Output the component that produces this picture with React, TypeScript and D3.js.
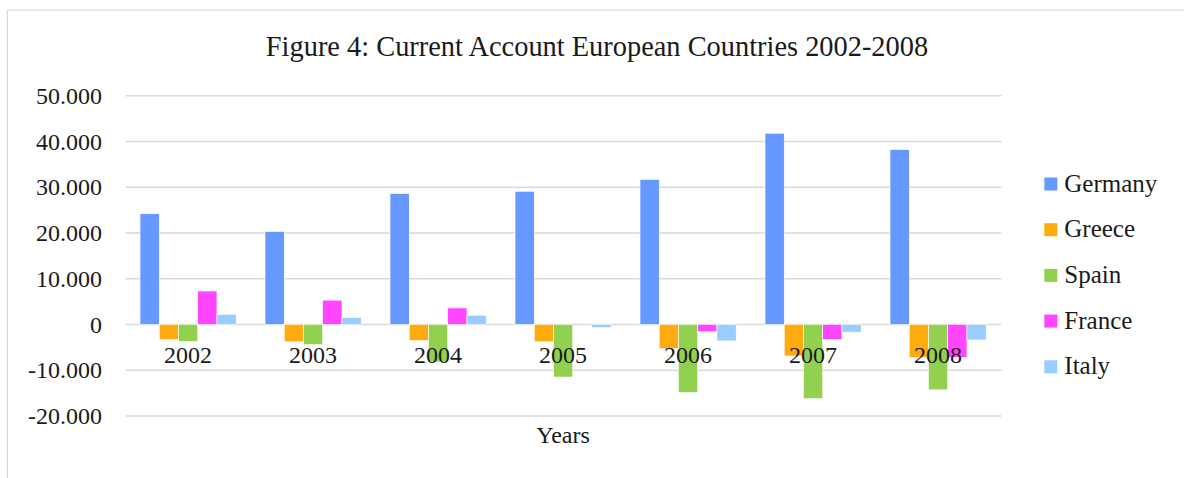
import React from 'react';
import * as d3 from 'd3';

// values (current account, millions)
const years = ['2002', '2003', '2004', '2005', '2006', '2007', '2008'];
const countries = ['Germany', 'Greece', 'Spain', 'France', 'Italy'];
const germany = [24200, 20300, 28600, 29100, 31700, 41800, 38200];
const greece = [-3300, -3800, -3500, -3800, -5300, -6900, -7200];
const spain = [-3700, -4400, -8200, -11500, -14900, -16200, -14300];
const france = [7300, 5300, 3600, 0, -1600, -3300, -7200];
const italy = [2200, 1500, 2000, -700, -3600, -1700, -3400];
const yTicks = [-20000, -10000, 0, 10000, 20000, 30000, 40000, 50000];
const colors = ['#6699ff', '#ffab10', '#92d050', '#ff45ff', '#99ccff'];

const series = [germany, greece, spain, france, italy];

const W = 1184;
const H = 478;
const FONT = '"Liberation Serif", "Times New Roman", serif';

const fmt = d3.formatLocale({
  decimal: ',',
  thousands: '.',
  grouping: [3],
  currency: ['', ''],
  minus: '-',
}).format(',');

export default function App() {
  const x0 = d3.scaleBand().domain(years).range([125.6, 1000.6]).paddingInner(0).paddingOuter(0);
  // excel style: gap width 150% -> band = 6.5 bar widths
  const barW = x0.bandwidth() / 6.5;
  const x1 = d3.scaleBand().domain(countries).range([0.75 * barW, 5.75 * barW]);
  const y = d3.scaleLinear().domain([-20000, 50000]).range([415.9, 95.7]);

  const txt = { fontFamily: FONT };

  return (
    <svg width={W} height={H} style={{ position: 'absolute', left: 0, top: 0, background: '#fff', fontFamily: FONT }}>
      <rect x={7.5} y={10} width={W} height={H} fill="#fff" stroke="#d9d9d9" strokeWidth={1.2} />

      <text x={597} y={56} textAnchor="middle" fontSize={28.4} fill="#1a1a1a" style={txt}>
        Figure 4: Current Account European Countries 2002-2008
      </text>

      {yTicks.map(t => (
        <g key={t}>
          <line x1={125.6} x2={1001.5} y1={y(t)} y2={y(t)} stroke="#d9d9d9" strokeWidth={1.5} />
          <text x={102} y={y(t) + 8.3} textAnchor="end" fontSize={24} fill="#1a1a1a" style={txt}>
            {fmt(t)}
          </text>
        </g>
      ))}

      {years.map((yr, i) => (
        <g key={yr} transform={`translate(${x0(yr)},0)`}>
          {series.map((s, j) => (
            <rect
              key={countries[j]}
              x={x1(countries[j])}
              y={y(Math.max(0, s[i]))}
              width={x1.bandwidth()}
              height={Math.abs(y(s[i]) - y(0))}
              fill={colors[j]}
              stroke="#fff"
              strokeWidth={0.6}
            />
          ))}
        </g>
      ))}

      {years.map(yr => (
        <text key={yr} x={x0(yr) + x0.bandwidth() / 2} y={363} textAnchor="middle" fontSize={24} fill="#1a1a1a" style={txt}>
          {yr}
        </text>
      ))}

      <text x={563} y={443} textAnchor="middle" fontSize={24} fill="#1a1a1a" style={txt}>
        Years
      </text>

      {countries.map((c, j) => (
        <g key={c} transform={`translate(1044.3,${184 + j * 45.7})`}>
          <rect x={0} y={-6.5} width={13} height={13} fill={colors[j]} />
          <text x={20} y={7.5} fontSize={25} fill="#1a1a1a" style={txt}>
            {c}
          </text>
        </g>
      ))}
    </svg>
  );
}
